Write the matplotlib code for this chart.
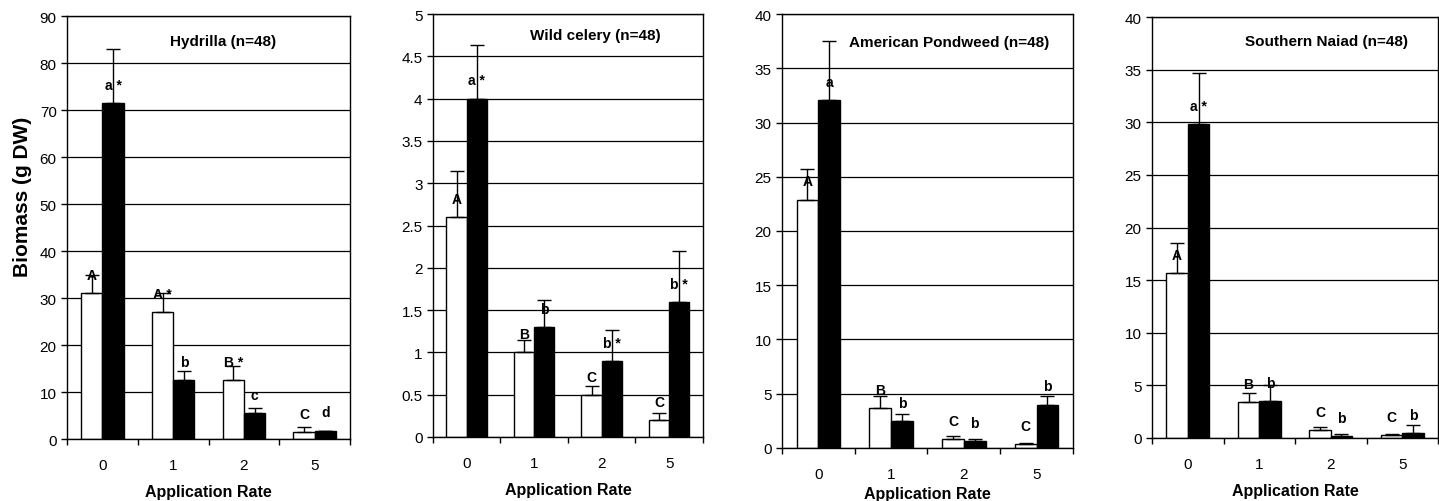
import numpy as np
import matplotlib
matplotlib.use("Agg")
import matplotlib.pyplot as plt
from matplotlib.ticker import FuncFormatter, MultipleLocator, FixedLocator

plt.rcParams["font.family"] = ["Liberation Sans", "DejaVu Sans"]

rates = ["0", "1", "2", "5"]

species = [
    "Hydrilla (n=48)",
    "Wild celery (n=48)",
    "American Pondweed (n=48)",
    "Southern Naiad (n=48)",
]

# white bars / black bars, mean and upper error
hyd_white = [31.0, 27.0, 12.5, 1.5]
hyd_white_err = [4.0, 4.0, 3.0, 1.0]
hyd_black = [71.5, 12.5, 5.5, 1.8]
hyd_black_err = [11.5, 2.0, 1.0, 0.0]
hyd_white_lab = ["A", "A *", "B *", "C"]
hyd_black_lab = ["a *", "b", "c", "d"]

cel_white = [2.6, 1.0, 0.5, 0.2]
cel_white_err = [0.55, 0.15, 0.1, 0.08]
cel_black = [4.0, 1.3, 0.9, 1.6]
cel_black_err = [0.63, 0.32, 0.36, 0.6]
cel_white_lab = ["A", "B", "C", "C"]
cel_black_lab = ["a *", "b", "b *", "b *"]

pond_white = [22.9, 3.7, 0.8, 0.35]
pond_white_err = [2.8, 1.1, 0.3, 0.15]
pond_black = [32.1, 2.5, 0.65, 4.0]
pond_black_err = [5.4, 0.6, 0.2, 0.8]
pond_white_lab = ["A", "B", "C", "C"]
pond_black_lab = ["a", "b", "b", "b"]

naiad_white = [15.7, 3.4, 0.75, 0.25]
naiad_white_err = [2.8, 0.9, 0.25, 0.15]
naiad_black = [29.8, 3.5, 0.2, 0.5]
naiad_black_err = [4.9, 1.5, 0.15, 0.7]
naiad_white_lab = ["A", "B", "C", "C"]
naiad_black_lab = ["a *", "b", "b", "b"]

y_max = [90, 5, 40, 40]
y_step = [10, 0.5, 5, 5]

panels = [
    (hyd_white, hyd_white_err, hyd_black, hyd_black_err, hyd_white_lab, hyd_black_lab),
    (cel_white, cel_white_err, cel_black, cel_black_err, cel_white_lab, cel_black_lab),
    (pond_white, pond_white_err, pond_black, pond_black_err, pond_white_lab, pond_black_lab),
    (naiad_white, naiad_white_err, naiad_black, naiad_black_err, naiad_white_lab, naiad_black_lab),
]

# axes rectangles in figure fraction
rects = [
    [0.0466, 0.1235, 0.1967, 0.8426],
    [0.3009, 0.1275, 0.1876, 0.8426],
    [0.5434, 0.1056, 0.2022, 0.8645],
    [0.8006, 0.1255, 0.1987, 0.8386],
]
title_pos = [(0.55, 0.94), (0.60, 0.95), (0.574, 0.935), (0.61, 0.943)]
xlabel_pad = [8, 8, 3, 8]

fig = plt.figure(figsize=(14.39, 5.02), dpi=100)

x = np.arange(len(rates))
w = 0.3

for i, (wv, we, bv, be, wl, bl) in enumerate(panels):
    ax = fig.add_axes(rects[i])
    ax.set_axisbelow(True)
    ax.bar(x - w / 2, wv, w, color="white", edgecolor="black", linewidth=1.0, zorder=2)
    ax.bar(x + w / 2, bv, w, color="black", edgecolor="black", linewidth=1.0, zorder=2)
    ax.errorbar(x - w / 2, wv, yerr=[np.zeros(4), we], fmt="none", ecolor="black",
                elinewidth=1.0, capsize=5, capthick=1.0, zorder=3)
    ax.errorbar(x + w / 2, bv, yerr=[np.zeros(4), be], fmt="none", ecolor="black",
                elinewidth=1.0, capsize=5, capthick=1.0, zorder=3)

    for j in range(len(rates)):
        ax.annotate(wl[j], (x[j] - w / 2, wv[j]), xytext=(0, 8), textcoords="offset points",
                    ha="center", va="bottom", fontsize=10, fontweight="bold", zorder=4)
        ax.annotate(bl[j], (x[j] + w / 2, bv[j]), xytext=(0, 8), textcoords="offset points",
                    ha="center", va="bottom", fontsize=10, fontweight="bold", zorder=4)

    ax.set_xlim(-0.5, len(rates) - 0.5)
    ax.set_ylim(0, y_max[i])
    ax.yaxis.set_major_locator(MultipleLocator(y_step[i]))
    ax.yaxis.set_major_formatter(FuncFormatter(lambda v, p: f"{v:g}"))
    ax.grid(axis="y", color="black", linewidth=0.9)

    ax.set_xticks(x)
    ax.set_xticklabels(rates)
    ax.xaxis.set_minor_locator(FixedLocator(np.arange(-0.5, len(rates), 1.0)))
    ax.tick_params(axis="x", which="major", length=0, labelsize=11, pad=14)
    ax.tick_params(axis="x", which="minor", length=4, direction="out", width=1.0)
    ax.tick_params(axis="y", length=4, direction="out", width=1.0, labelsize=11)

    for s in ax.spines.values():
        s.set_linewidth(1.0)

    ax.text(title_pos[i][0], title_pos[i][1], species[i], transform=ax.transAxes,
            ha="center", va="center", fontsize=11, fontweight="bold")
    ax.set_xlabel("Application Rate", fontsize=11.5, fontweight="bold", labelpad=xlabel_pad[i])
    if i == 0:
        ax.set_ylabel("Biomass (g DW)", fontsize=15, fontweight="bold")
        ax.yaxis.set_label_coords(-0.125, 0.574)

fig.savefig("out.png", dpi=100)
